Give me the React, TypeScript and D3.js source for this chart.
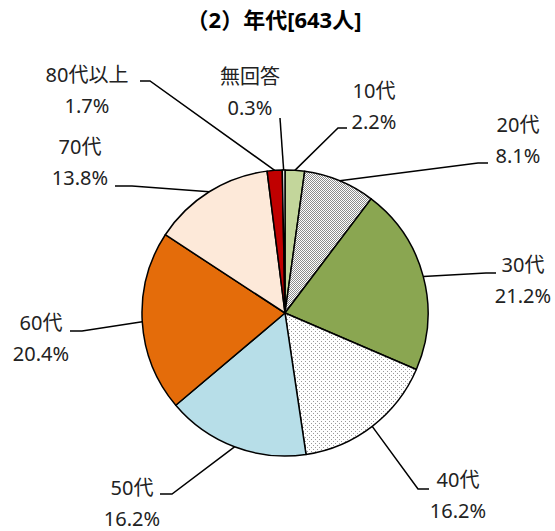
import React, { useEffect, useRef } from "react";
import * as d3 from "d3";

const title = "（2）年代[643人]";
const categories = ["10代", "20代", "30代", "40代", "50代", "60代", "70代", "80代以上", "無回答"];
const shares = [2.2, 8.1, 21.2, 16.2, 16.2, 20.4, 13.8, 1.7, 0.3];
const fills = ["#c3d69b", "url(#checker)", "#8aa651", "url(#dots)", "#b7dee8", "#e46c0a", "#fde9d9", "#c00000", "#ffffff"];

// label centre x, first-line y, and the short horizontal part of the leader [xStart, xEnd, y]
const labelLayout: Record<string, { x: number; y: number; lead: [number, number, number] }> = {
  "10代": { x: 374, y: 91, lead: [347, 338, 128] },
  "20代": { x: 518, y: 125, lead: [488, 478, 163] },
  "30代": { x: 523, y: 265, lead: [496, 486, 273] },
  "40代": { x: 458, y: 480, lead: [429, 418, 489] },
  "50代": { x: 132, y: 488, lead: [160, 172, 494] },
  "60代": { x: 41, y: 323, lead: [70, 82, 331] },
  "70代": { x: 80, y: 147, lead: [115, 132, 186] },
  "80代以上": { x: 87, y: 75, lead: [140, 150, 81] },
  "無回答": { x: 250, y: 77, lead: [280, 280, 118] },
};

export default function App() {
  const ref = useRef<SVGSVGElement>(null);

  useEffect(() => {
    const svg = d3.select(ref.current);
    svg.selectAll("*").remove();
    const width = 555, height = 531, cx = 285, cy = 313, r = 143;
    const font = "'Noto Sans', 'Noto Sans CJK JP', sans-serif";

    const defs = svg.append("defs");
    const checker = defs.append("pattern").attr("id", "checker").attr("width", 2).attr("height", 2).attr("patternUnits", "userSpaceOnUse");
    checker.append("rect").attr("width", 2).attr("height", 2).attr("fill", "#fff");
    checker.append("rect").attr("width", 1).attr("height", 1).attr("fill", "#8c8c8c");
    checker.append("rect").attr("x", 1).attr("y", 1).attr("width", 1).attr("height", 1).attr("fill", "#8c8c8c");
    const dots = defs.append("pattern").attr("id", "dots").attr("width", 4).attr("height", 4).attr("patternUnits", "userSpaceOnUse");
    dots.append("rect").attr("width", 4).attr("height", 4).attr("fill", "#fff");
    dots.append("rect").attr("width", 1).attr("height", 1).attr("fill", "#999");
    dots.append("rect").attr("x", 2).attr("y", 2).attr("width", 1).attr("height", 1).attr("fill", "#999");

    svg.attr("width", width).attr("height", height);

    svg.append("text").attr("x", 274).attr("y", 28).attr("text-anchor", "middle")
      .attr("font-family", font).attr("font-weight", "bold").attr("font-size", 22).attr("fill", "#000").text(title);

    const data = categories.map((c, i) => ({ name: c, value: shares[i], fill: fills[i] }));
    const pie = d3.pie<any>().sort(null).value(d => d.value);
    const arcs = pie(data);
    const arc = d3.arc<any>().innerRadius(0).outerRadius(r);
    const edge = d3.arc<any>().innerRadius(r).outerRadius(r);

    const g = svg.append("g").attr("transform", `translate(${cx},${cy})`);
    g.selectAll("path").data(arcs).join("path")
      .attr("d", arc).attr("fill", d => d.data.fill)
      .attr("stroke", "#000").attr("stroke-width", 1.5).attr("stroke-linejoin", "round");

    arcs.forEach(a => {
      const lay = labelLayout[a.data.name];
      const [ex, ey] = edge.centroid(a);
      const [x1, x2, ly] = lay.lead;
      svg.append("polyline")
        .attr("points", `${x1},${ly} ${x2},${ly} ${cx + ex},${cy + ey}`)
        .attr("fill", "none").attr("stroke", "#000").attr("stroke-width", 1.5);
      const t = svg.append("text").attr("text-anchor", "middle").attr("font-family", font)
        .attr("font-size", 20).attr("fill", "#222");
      t.append("tspan").attr("x", lay.x).attr("y", lay.y + 7).text(a.data.name);
      t.append("tspan").attr("x", lay.x).attr("y", lay.y + 38).text(`${a.data.value.toFixed(1)}%`);
    });
  }, []);

  return <svg ref={ref} style={{ position: "absolute", left: 0, top: 0, background: "#fff" }}></svg>;
}
